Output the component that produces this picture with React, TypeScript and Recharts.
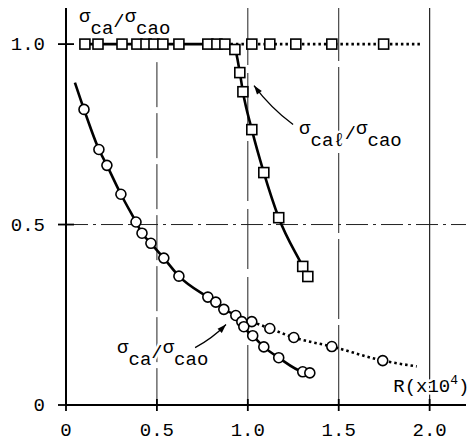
import React from 'react';
import { LineChart, Line, XAxis, YAxis, ReferenceLine, ReferenceDot } from 'recharts';

const FONT = '"Liberation Mono", "DejaVu Sans Mono", monospace';

// R (x10^4) tick values and labels
const xTicks = [0, 0.5, 1.0, 1.5, 2.0];
const xTickLabels = ['0', '0.5', '1.0', '1.5', '2.0'];
const yTicks = [0, 0.5, 1.0];
const yTickLabels = ['0', '0.5', '1.0'];

// sigma_ca / sigma_cao (squares) - solid: flat then drop (sigma_caℓ/sigma_cao)
const sqSolidR = [0.104, 0.176, 0.308, 0.39, 0.44, 0.484, 0.533, 0.621, 0.78, 0.83, 0.874, 0.929, 0.956, 0.973, 1.022, 1.088, 1.17, 1.302, 1.33];
const sqSolidV = [1, 1, 1, 1, 1, 1, 1, 1, 1, 1, 1, 0.985, 0.921, 0.868, 0.763, 0.644, 0.519, 0.384, 0.356];
// squares - dotted continuation at 1.0
const sqDotR = [0.874, 1.022, 1.121, 1.264, 1.462, 1.747, 1.956];
const sqDotV = [1, 1, 1, 1, 1, 1, 1];
// circles - solid curve
const ciSolidR = [0.049, 0.099, 0.181, 0.225, 0.302, 0.385, 0.418, 0.467, 0.538, 0.621, 0.78, 0.824, 0.868, 0.934, 0.967, 0.978, 1.027, 1.088, 1.17, 1.302, 1.341];
const ciSolidV = [0.893, 0.819, 0.708, 0.664, 0.584, 0.507, 0.476, 0.448, 0.407, 0.357, 0.299, 0.285, 0.265, 0.248, 0.231, 0.217, 0.192, 0.161, 0.131, 0.092, 0.089];
// circles - dotted branch
const ciDotR = [1.022, 1.121, 1.253, 1.462, 1.742, 1.929];
const ciDotV = [0.231, 0.212, 0.187, 0.162, 0.123, 0.107];

const toRows = (r: number[], v: number[]) => r.map((x, i) => ({ r: x, v: v[i] }));
const sqSolid = toRows(sqSolidR, sqSolidV);
const sqDot = toRows(sqDotR, sqDotV);
const ciSolid = toRows(ciSolidR, ciSolidV);
const ciDot = toRows(ciDotR, ciDotV);

const squareDot = (skip: number[], tag: string) => (p: any) => {
  const { cx, cy, index } = p;
  if (skip.includes(index) || cx == null || cy == null) return <g key={`${tag}${index}`} />;
  return (
    <rect key={`${tag}${index}`} x={cx - 5} y={cy - 5} width={10} height={10} fill="#fff" stroke="#000" strokeWidth={1.6} />
  );
};
const circleDot = (skip: number[], tag: string) => (p: any) => {
  const { cx, cy, index } = p;
  if (skip.includes(index) || cx == null || cy == null) return <g key={`${tag}${index}`} />;
  return <circle key={`${tag}${index}`} cx={cx} cy={cy} r={5} fill="#fff" stroke="#000" strokeWidth={1.6} />;
};

const XTick = (props: any) => {
  const { x, y, payload } = props;
  const i = xTicks.indexOf(payload.value);
  return (
    <g>
      <line x1={x} x2={x} y1={y - 6} y2={y + 6} stroke="#000" strokeWidth={1.8} />
      <text x={x} y={y + 31} textAnchor="middle" fontFamily={FONT} fontSize={19} fill="#000">
        {xTickLabels[i]}
      </text>
    </g>
  );
};

const YTick = (props: any) => {
  const { x, y, payload } = props;
  const i = yTicks.indexOf(payload.value);
  return (
    <g>
      <line x1={x - 8} x2={x + 8} y1={y} y2={y} stroke="#000" strokeWidth={1.8} />
      <text x={x - 21} y={y + 6} textAnchor="end" fontFamily={FONT} fontSize={19} fill="#000">
        {yTickLabels[i]}
      </text>
    </g>
  );
};

const arrowShape = (bend: number) => (p: any) => {
  const { x1, y1, x2, y2 } = p;
  const dx = x2 - x1;
  const dy = y2 - y1;
  const len = Math.hypot(dx, dy) || 1;
  const nx = -dy / len;
  const ny = dx / len;
  const qx = (x1 + x2) / 2 + nx * bend;
  const qy = (y1 + y2) / 2 + ny * bend;
  const ax = x2 - qx;
  const ay = y2 - qy;
  const al = Math.hypot(ax, ay) || 1;
  const ux = ax / al;
  const uy = ay / al;
  const h = 9;
  const w = 3;
  const bx = x2 - ux * h;
  const by = y2 - uy * h;
  const pts = `${x2},${y2} ${bx - uy * w},${by + ux * w} ${bx + uy * w},${by - ux * w}`;
  return (
    <g>
      <path d={`M${x1},${y1} Q${qx},${qy} ${x2},${y2}`} fill="none" stroke="#000" strokeWidth={1.3} />
      <polygon points={pts} fill="#000" />
    </g>
  );
};

const sigmaLabel = (num: string, den: string) => (p: any) => {
  const { cx, cy } = p;
  return (
    <text
      x={cx}
      y={cy}
      fontFamily={FONT}
      fontSize={19}
      fill="#000"
      stroke="#fff"
      strokeWidth={5}
      strokeLinejoin="round"
      paintOrder="stroke"
    >
      <tspan>σ</tspan>
      <tspan dy={12}>{num}</tspan>
      <tspan dy={-7}>/</tspan>
      <tspan dy={-5}>σ</tspan>
      <tspan dy={12}>{den}</tspan>
    </text>
  );
};

const rLabel = (p: any) => {
  const { cx, cy } = p;
  return (
    <text x={cx} y={cy} fontFamily={FONT} fontSize={19} fill="#000" stroke="#fff" strokeWidth={5} strokeLinejoin="round" paintOrder="stroke">
      <tspan>R(x10</tspan>
      <tspan dy={-8} fontSize={13}>4</tspan>
      <tspan dy={8}>)</tspan>
    </text>
  );
};

export default function App() {
  return (
    <div style={{ position: 'absolute', left: 0, top: 0, background: '#fff' }}>
      <LineChart width={476} height={443} margin={{ top: 8, right: 10, bottom: 0, left: 0 }}>
        <XAxis
          type="number"
          dataKey="r"
          domain={[0, 2.2]}
          ticks={xTicks}
          interval={0}
          allowDataOverflow
          height={38}
          tickSize={0}
          tickMargin={0}
          tickLine={false}
          tick={(p: any) => <XTick {...p} />}
          axisLine={{ stroke: '#000', strokeWidth: 2 }}
        />
        <YAxis
          type="number"
          domain={[0, 1.1]}
          ticks={yTicks}
          interval={0}
          allowDataOverflow
          width={66}
          tickSize={0}
          tickMargin={0}
          tickLine={false}
          tick={(p: any) => <YTick {...p} />}
          axisLine={{ stroke: '#000', strokeWidth: 2 }}
        />

        <ReferenceLine segment={[{ x: 0.5, y: 0.95 }, { x: 0.5, y: 0 }]} stroke="#222" strokeWidth={1} strokeDasharray="45 6" />
        <ReferenceLine x={1.0} stroke="#222" strokeWidth={1} strokeDasharray="60 8" />
        <ReferenceLine x={1.5} stroke="#222" strokeWidth={1} strokeDasharray="80 6" />
        <ReferenceLine x={2.0} stroke="#222" strokeWidth={1.2} />
        <ReferenceLine y={0.5} stroke="#222" strokeWidth={1} strokeDasharray="22 5 3 5" />

        <ReferenceLine segment={[{ x: 1.249, y: 0.777 }, { x: 1.034, y: 0.885 }]} shape={arrowShape(-4)} />
        <ReferenceLine segment={[{ x: 0.71, y: 0.159 }, { x: 0.88, y: 0.223 }]} shape={arrowShape(3)} />

        <ReferenceDot x={0.072} y={1.062} r={0} shape={sigmaLabel('ca', 'cao')} />
        <ReferenceDot x={1.282} y={0.752} r={0} shape={sigmaLabel('caℓ', 'cao')} />
        <ReferenceDot x={0.281} y={0.145} r={0} shape={sigmaLabel('ca', 'cao')} />
        <ReferenceDot x={1.8} y={0.035} r={0} shape={rLabel} />

        <Line
          data={sqDot}
          dataKey="v"
          type="monotone"
          stroke="#000"
          strokeWidth={2.6}
          strokeDasharray="2.5 3"
          dot={squareDot([0, 6], 'sd')}
          activeDot={false}
          isAnimationActive={false}
        />
        <Line
          data={ciDot}
          dataKey="v"
          type="monotone"
          stroke="#000"
          strokeWidth={2.6}
          strokeDasharray="2.5 3"
          dot={circleDot([5], 'cd')}
          activeDot={false}
          isAnimationActive={false}
        />
        <Line
          data={sqSolid}
          dataKey="v"
          type="monotone"
          stroke="#000"
          strokeWidth={2.6}
          dot={squareDot([], 'ss')}
          activeDot={false}
          isAnimationActive={false}
        />
        <Line
          data={ciSolid}
          dataKey="v"
          type="monotone"
          stroke="#000"
          strokeWidth={2.6}
          dot={circleDot([0], 'cs')}
          activeDot={false}
          isAnimationActive={false}
        />
      </LineChart>
    </div>
  );
}
